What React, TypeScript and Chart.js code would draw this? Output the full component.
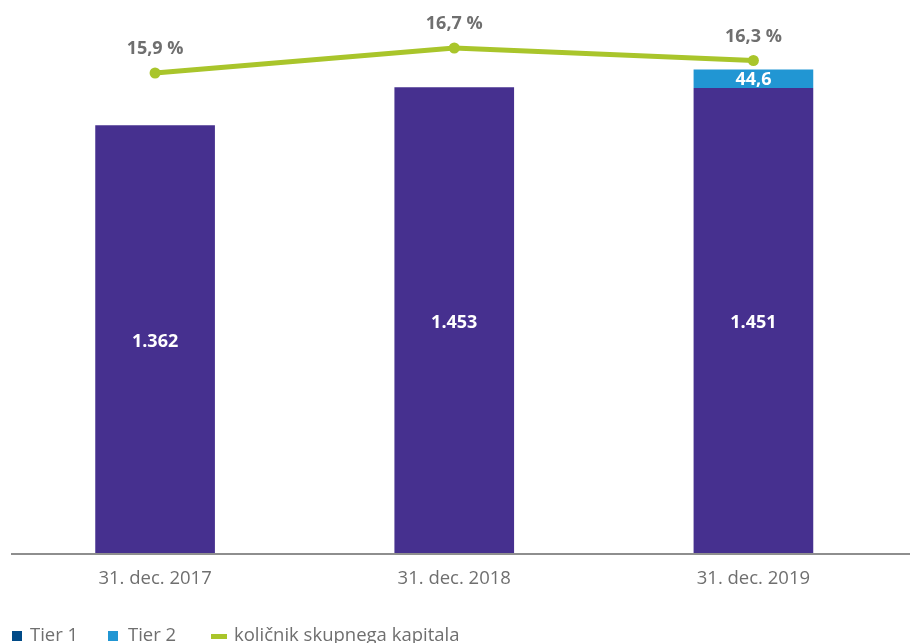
import React, { useEffect, useRef } from "react";
import { Chart, registerables } from "chart.js";

Chart.register(...registerables);

const categories = ["31. dec. 2017", "31. dec. 2018", "31. dec. 2019"];
const tier1 = [1362, 1453, 1451];
const tier2 = [0, 0, 44.6];
const ratio = [15.9, 16.7, 16.3];
const tier1Labels = ["1.362", "1.453", "1.451"];
const tier2Labels = ["", "", "44,6"];
const ratioLabels = ["15,9 %", "16,7 %", "16,3 %"];

const legendItems = [
  { label: "Tier 1", color: "#004a87", kind: "box", markerX: 12, textX: 30 },
  { label: "Tier 2", color: "#2196d3", kind: "box", markerX: 108, textX: 128 },
  { label: "količnik skupnega kapitala", color: "#a9c52b", kind: "line", markerX: 211, textX: 234 },
];

const FONT = "'Open Sans', 'DejaVu Sans', sans-serif";

const labelPlugin = {
  id: "customLabels",
  afterDraw(chart: any) {
    const ctx = chart.ctx;
    const area = chart.chartArea;
    ctx.save();
    ctx.strokeStyle = "#8e8e8e";
    ctx.lineWidth = 2;
    ctx.beginPath();
    ctx.moveTo(11, area.bottom);
    ctx.lineTo(910, area.bottom);
    ctx.stroke();

    ctx.textAlign = "center";
    ctx.textBaseline = "middle";
    ctx.font = `bold 18px ${FONT}`;
    const m0 = chart.getDatasetMeta(0);
    m0.data.forEach((el: any, i: number) => {
      const p = el.getProps(["x", "y", "base"], true);
      const b = Math.min(p.base, area.bottom);
      ctx.fillStyle = "#ffffff";
      ctx.fillText(tier1Labels[i], p.x, (p.y + b) / 2 + 2);
    });
    const m1 = chart.getDatasetMeta(1);
    m1.data.forEach((el: any, i: number) => {
      if (!tier2Labels[i]) return;
      const p = el.getProps(["x", "y", "base"], true);
      const b = Math.min(p.base, area.bottom);
      ctx.fillStyle = "#ffffff";
      ctx.fillText(tier2Labels[i], p.x, (p.y + b) / 2 + 1);
    });
    const m2 = chart.getDatasetMeta(2);
    m2.data.forEach((el: any, i: number) => {
      ctx.fillStyle = "#6f6f6f";
      ctx.fillText(ratioLabels[i], el.x, el.y - 24);
    });
    ctx.restore();
  },
};

export default function App() {
  const ref = useRef<HTMLCanvasElement | null>(null);
  useEffect(() => {
    if (!ref.current) return;
    const chart = new Chart(ref.current, {
      type: "bar",
      data: {
        labels: categories,
        datasets: [
          {
            type: "bar",
            label: "Tier 1",
            data: tier1,
            backgroundColor: "#46308f",
            barPercentage: 0.4,
            categoryPercentage: 1,
            yAxisID: "y",
            order: 2,
          },
          {
            type: "bar",
            label: "Tier 2",
            data: tier2,
            backgroundColor: "#2196d3",
            barPercentage: 0.4,
            categoryPercentage: 1,
            yAxisID: "y",
            order: 2,
          },
          {
            type: "line",
            label: "količnik skupnega kapitala",
            data: ratio,
            borderColor: "#a9c52b",
            backgroundColor: "#a9c52b",
            borderWidth: 5,
            pointRadius: 5.5,
            pointHoverRadius: 5.5,
            pointBackgroundColor: "#a9c52b",
            pointBorderWidth: 0,
            tension: 0,
            yAxisID: "y1",
            order: 0,
          },
        ] as any,
      },
      options: {
        animation: false,
        responsive: false,
        maintainAspectRatio: false,
        layout: { padding: { left: 2, right: 16, top: 20, bottom: 0 } },
        plugins: {
          legend: { display: false },
          tooltip: { enabled: false },
        },
        scales: {
          x: {
            stacked: true,
            grid: { display: false, drawTicks: false },
            border: { display: false },
            ticks: {
              color: "#6f6f6f",
              font: { family: FONT, size: 18.5 },
              padding: 14,
            },
            afterFit(scale: any) {
              scale.height = 89;
            },
          },
          y: {
            stacked: true,
            display: false,
            min: 335,
            max: 1614,
          },
          y1: {
            display: false,
            min: 0.508,
            max: 17.596,
          },
        },
      } as any,
      plugins: [labelPlugin],
    });
    return () => chart.destroy();
  }, []);

  return (
    <div style={{ position: "absolute", left: 0, top: 0, width: 919, height: 643, overflow: "hidden", background: "#fff" }}>
      <canvas ref={ref} width={919} height={643} style={{ display: "block", width: 919, height: 643 }} />
      {legendItems.map((it, i) => (
        <React.Fragment key={i}>
          {it.kind === "box" ? (
            <span style={{ position: "absolute", left: it.markerX, top: 631, width: 10, height: 10, background: it.color }} />
          ) : (
            <span style={{ position: "absolute", left: it.markerX, top: 634, width: 16, height: 5, background: it.color }} />
          )}
          <span
            style={{
              position: "absolute",
              left: it.textX,
              top: 622,
              fontFamily: FONT,
              fontSize: 18.5,
              lineHeight: "24px",
              color: "#6f6f6f",
              whiteSpace: "nowrap",
            }}
          >
            {it.label}
          </span>
        </React.Fragment>
      ))}
    </div>
  );
}
